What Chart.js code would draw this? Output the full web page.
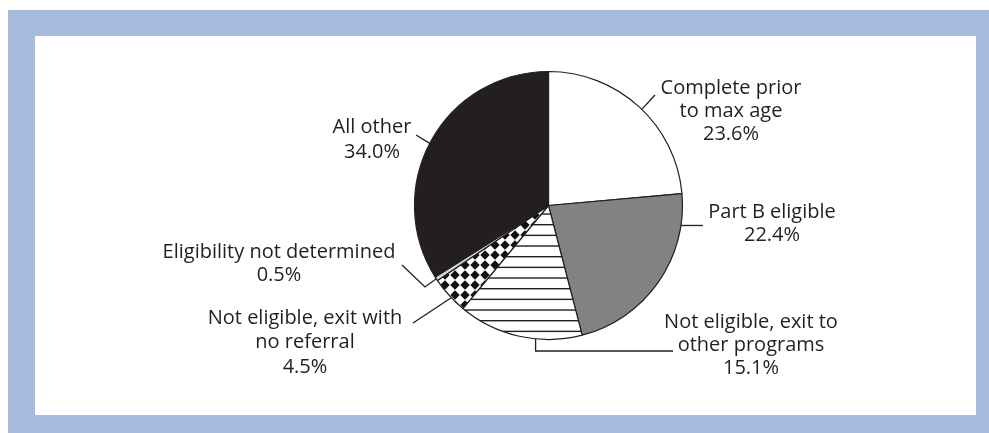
<!DOCTYPE html>
<html>
<head>
<meta charset="utf-8">
<script src="https://cdn.jsdelivr.net/npm/chart.js@4.4.1/dist/chart.umd.min.js"></script>
<style>
  html, body { margin: 0; padding: 0; background: #ffffff; width: 989px; height: 433px; overflow: hidden; }
  #frame { position: absolute; left: 8px; top: 10px; width: 981px; height: 423px; background: #A7BCDC; }
  #inner { position: absolute; left: 35px; top: 36px; width: 941px; height: 379px; background: #ffffff; }
  #c { position: absolute; left: 0; top: 0; }
</style>
</head>
<body>
<div id="frame"></div>
<div id="inner"></div>
<canvas id="c" width="989" height="433"></canvas>
<script>
// ---- data ----
const categories = [
  "Complete prior to max age",
  "Part B eligible",
  "Not eligible, exit to other programs",
  "Not eligible, exit with no referral",
  "Eligibility not determined",
  "All other"
];
const percentValues = [23.6, 22.4, 15.1, 4.5, 0.5, 34.0];
const labelLines = [
  ["Complete prior", "to max age"],
  ["Part B eligible"],
  ["Not eligible, exit to", "other programs"],
  ["Not eligible, exit with", "no referral"],
  ["Eligibility not determined"],
  ["All other"]
];

// ---- layout (label placement, not data) ----
const labelLayout = [
  { cx: 731, y: 88,  gap: 23, anchor: 0.52, path: [[655, 95]] },
  { cx: 772, y: 212, gap: 23, anchor: 0.17, path: [[703, 'a']] },
  { cx: 751, y: 322, gap: 23, anchor: 0.37, path: [['a', 351], [673, 351]] },
  { cx: 305, y: 318, gap: 24.5, anchor: 0.42, path: [[413, 323]] },
  { cx: 279, y: 252, gap: 23, anchor: 0.5, path: [[425, 287], [402, 265]] },
  { cx: 372, y: 127, gap: 25, anchor: 0.49, path: [[416, 135]] }
];

// ---- patterns ----
function stripePattern() {
  const t = document.createElement('canvas');
  t.width = 8; t.height = 32;
  const g = t.getContext('2d');
  g.fillStyle = '#ffffff'; g.fillRect(0, 0, 8, 32);
  g.fillStyle = '#231f20';
  [0, 10.67, 21.33].forEach(y => g.fillRect(0, y, 8, 1.4));
  return g.createPattern(t, 'repeat');
}
function checkerPattern() {
  const d = 10;
  const t = document.createElement('canvas');
  t.width = d; t.height = d;
  const g = t.getContext('2d');
  g.fillStyle = '#ffffff'; g.fillRect(0, 0, d, d);
  g.fillStyle = '#111111';
  g.beginPath();
  g.moveTo(d / 2, 0.3); g.lineTo(d - 0.3, d / 2); g.lineTo(d / 2, d - 0.3); g.lineTo(0.3, d / 2);
  g.closePath(); g.fill();
  return g.createPattern(t, 'repeat');
}

const fills = ['#ffffff', '#828282', stripePattern(), checkerPattern(), '#d4d4d4', '#231f20'];

const labelPlugin = {
  id: 'leaderLabels',
  afterDatasetsDraw(chart) {
    const ctx = chart.ctx;
    const meta = chart.getDatasetMeta(0);
    ctx.save();
    ctx.font = '20px "Open Sans"';
    ctx.fillStyle = '#231f20';
    ctx.textAlign = 'center';
    ctx.textBaseline = 'middle';
    meta.data.forEach((arc, i) => {
      const p = arc.getProps(['x', 'y', 'startAngle', 'endAngle', 'outerRadius'], true);
      const L = labelLayout[i];
      const a = p.startAngle + L.anchor * (p.endAngle - p.startAngle);
      const ax = p.x + p.outerRadius * Math.cos(a);
      const ay = p.y + p.outerRadius * Math.sin(a);
      ctx.beginPath();
      ctx.strokeStyle = '#231f20';
      ctx.lineWidth = 1.3;
      ctx.moveTo(ax, ay);
      L.path.forEach(pt => {
        const x = pt[0] === 'a' ? ax : pt[0];
        const y = pt[1] === 'a' ? ay : pt[1];
        ctx.lineTo(x, y);
      });
      ctx.stroke();
      const lines = labelLines[i].concat([percentValues[i].toFixed(1) + '%']);
      lines.forEach((t, k) => ctx.fillText(t, L.cx, L.y + k * L.gap));
    });
    ctx.restore();
  }
};

new Chart(document.getElementById('c'), {
  type: 'pie',
  data: {
    labels: categories,
    datasets: [{
      data: percentValues,
      backgroundColor: fills,
      borderColor: '#231f20',
      borderWidth: 1.2,
      radius: 134
    }]
  },
  options: {
    responsive: false,
    animation: false,
    layout: { padding: { left: 415, right: 307, top: 71, bottom: 93 } },
    plugins: { legend: { display: false }, tooltip: { enabled: false } }
  },
  plugins: [labelPlugin]
});
</script>
</body>
</html>
